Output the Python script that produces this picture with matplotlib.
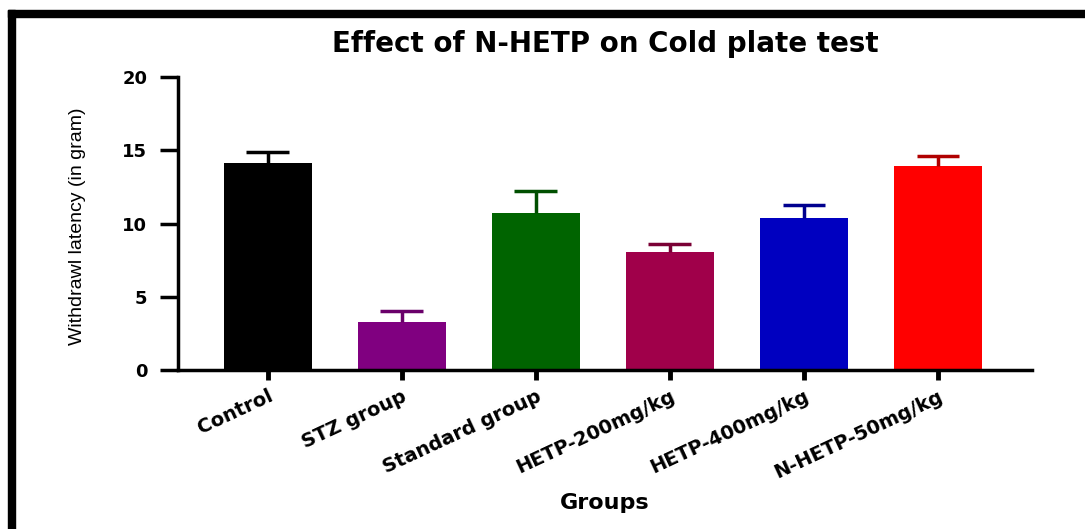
import matplotlib.pyplot as plt
from matplotlib.patches import Rectangle

# data
groups = ['Control', 'STZ group', 'Standard group', 'HETP-200mg/kg',
          'HETP-400mg/kg', 'N-HETP-50mg/kg']
means = [14.1, 3.3, 10.7, 8.05, 10.4, 13.9]
errors = [0.8, 0.7, 1.5, 0.55, 0.85, 0.7]
bar_colors = ['#000000', '#800080', '#006400', '#A0004A', '#0000C0', '#FF0000']
err_colors = ['#000000', '#6A006A', '#004F00', '#7A0035', '#00008F', '#B00000']

plt.rcParams['font.family'] = ['DejaVu Sans']

fig = plt.figure(figsize=(10.85, 5.29), dpi=100)
ax = fig.add_axes([0.164, 0.3006, 0.787, 0.5538])

x = list(range(len(groups)))
ax.bar(x, means, width=0.66, color=bar_colors, zorder=2)

# only the upper half of the error bars, as in the picture
tops = [m + e for m, e in zip(means, errors)]
ax.vlines(x, means, tops, colors=err_colors, linewidth=2.5, zorder=3)
ax.hlines(tops, [xi - 0.16 for xi in x], [xi + 0.16 for xi in x],
          colors=err_colors, linewidth=2.5, zorder=3)

ax.set_xlim(-0.67, 5.70)
ax.set_ylim(0, 20)
ax.set_yticks([0, 5, 10, 15, 20])
ax.set_xticks(x)
ax.set_xticklabels(groups, rotation=25, ha='right', va='top',
                   rotation_mode='anchor', fontsize=14, fontweight='bold')
for lab in ax.get_yticklabels():
    lab.set_fontsize(13)
    lab.set_fontweight('bold')

for s in ['top', 'right']:
    ax.spines[s].set_visible(False)
for s in ['left', 'bottom']:
    ax.spines[s].set_linewidth(2.5)
ax.tick_params(axis='y', length=13, width=2.5, pad=9)
ax.tick_params(axis='x', length=7, width=3.5, pad=5)

ax.set_title('Effect of N-HETP on Cold plate test', fontsize=20,
             fontweight='bold', pad=18)
ax.set_xlabel('Groups', fontsize=16, fontweight='bold')
ax.xaxis.set_label_coords(0.5, -0.42)
ax.set_ylabel('Withdrawl latency (in gram)', fontsize=14,
              family=['Liberation Sans'])
ax.yaxis.set_label_coords(-0.108, 0.49)

# black frame on top and left, as in the picture
fig.add_artist(Rectangle((0.0074, 1 - 17 / 529), 1.0, 7 / 529,
                         transform=fig.transFigure, color='black'))
fig.add_artist(Rectangle((8 / 1085, 0), 7 / 1085, 1 - 10 / 529,
                         transform=fig.transFigure, color='black'))

fig.savefig('out.png', dpi=100)
